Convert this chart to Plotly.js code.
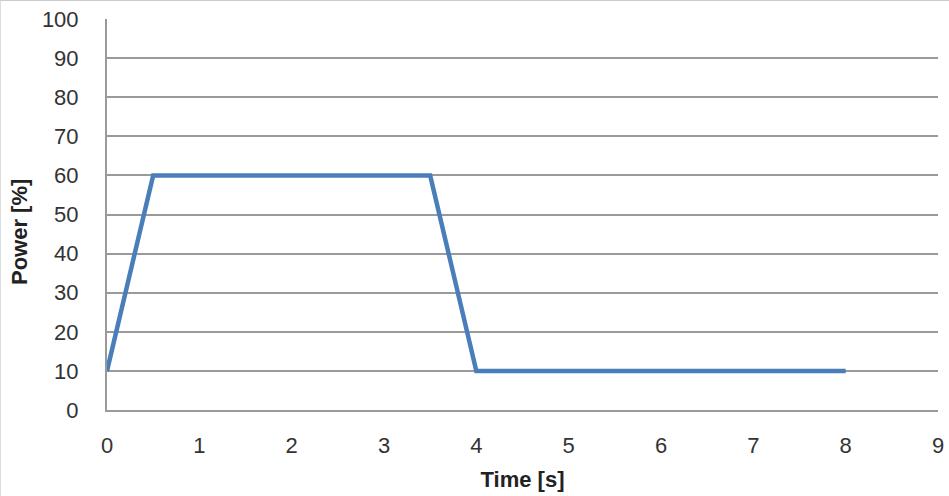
<!DOCTYPE html>
<html>
<head>
<meta charset="utf-8">
<script src="https://cdn.plot.ly/plotly-3.0.1.min.js"></script>
<style>
html,body{margin:0;padding:0;background:#fff;}
#frame{width:949px;height:496px;box-sizing:border-box;border-top:1px solid #ccc;border-left:1px solid #ddd;}
#chart{width:948px;height:495px;}
</style>
</head>
<body>
<div id="frame"><div id="chart"></div></div>
<script>
const timeS = [0, 0.5, 3.5, 4, 8];
const powerPct = [10, 60, 60, 10, 10];
const xTicks = [0,1,2,3,4,5,6,7,8,9];
const yTicks = [0,10,20,30,40,50,60,70,80,90,100];

const trace = {
  x: timeS, y: powerPct, type: 'scatter', mode: 'lines',
  line: {color: '#4a7ebb', width: 4.5}, hoverinfo: 'skip'
};
const layout = {
  width: 948, height: 495,
  margin: {l: 106, r: 11, t: 18, b: 86},
  paper_bgcolor: '#fff', plot_bgcolor: '#fff',
  showlegend: false,
  font: {family: 'Liberation Sans, Arial, sans-serif', color: '#333', size: 22},
  xaxis: {
    range: [0, 9], tickvals: xTicks, showgrid: false, zeroline: false,
    showline: true, linecolor: '#9a9a9a', linewidth: 2,
    ticks: 'outside', ticklen: 15, tickcolor: 'rgba(0,0,0,0)',
    title: {text: '<b>Time [s]</b>', font: {size: 22, color: '#222'}, standoff: 14}
  },
  yaxis: {
    range: [0, 100], tickvals: yTicks, showgrid: true, gridcolor: '#9a9a9a', gridwidth: 2,
    zeroline: false, showline: true, linecolor: '#9a9a9a', linewidth: 2,
    ticks: 'outside', ticklen: 22, tickcolor: 'rgba(0,0,0,0)'
  },
  annotations: [{
    text: '<b>Power [%]</b>', textangle: -90, showarrow: false,
    xref: 'paper', yref: 'paper', x: -0.106, y: 0.455,
    xanchor: 'center', yanchor: 'middle',
    font: {size: 22, color: '#222'}
  }]
};
Plotly.newPlot('chart', [trace], layout, {displayModeBar: false, staticPlot: true});
</script>
</body>
</html>
